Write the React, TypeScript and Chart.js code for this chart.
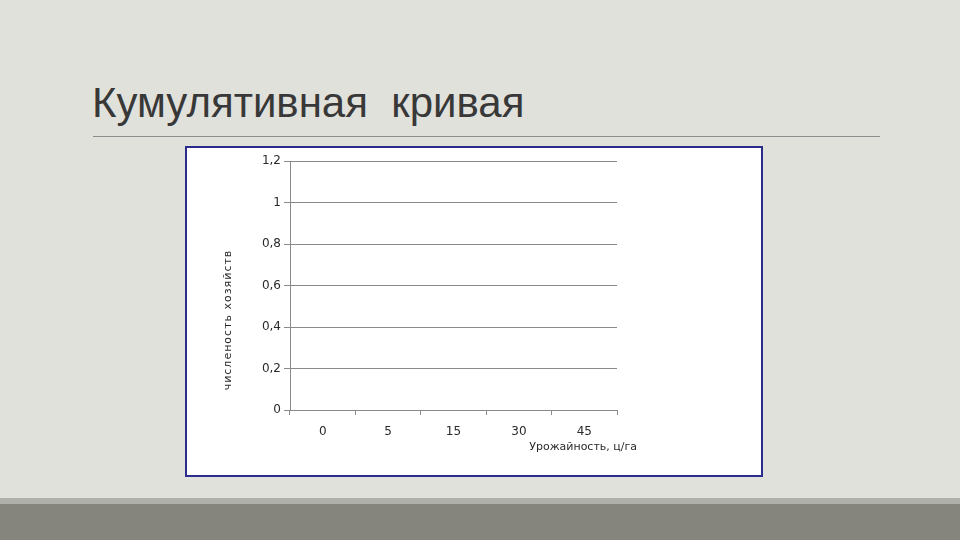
import React, { useEffect, useRef } from "react";
import { Chart, registerables } from "chart.js";

Chart.register(...registerables);

const slideTitle = "Кумулятивная  кривая";
const categories = ["0", "5", "15", "30", "45"];
const cumulativeShare: (number | null)[] = [null, null, null, null, null];
const yMin = 0;
const yMax = 1.2;
const yStep = 0.2;
const xAxisTitle = "Урожайность, ц/га";
const yAxisTitle = "численость хозяйств";

const AXIS_FONT = "'DejaVu Sans', Verdana, sans-serif";

export default function App() {
  const canvasRef = useRef<HTMLCanvasElement | null>(null);

  useEffect(() => {
    const canvas = canvasRef.current;
    if (!canvas) return;
    const axisTitlesPlugin = {
      id: "axisTitlesPlugin",
      afterDraw(chart: any) {
        const { ctx, chartArea } = chart;
        ctx.save();
        ctx.font = `11px ${AXIS_FONT}`;
        ctx.fillStyle = "#2a2a2a";
        ctx.textAlign = "right";
        ctx.textBaseline = "middle";
        ctx.fillText(xAxisTitle, chartArea.right + 20, chartArea.bottom + 37);
        ctx.restore();

        ctx.save();
        ctx.font = `11px ${AXIS_FONT}`;
        ctx.fillStyle = "#2a2a2a";
        (ctx as any).letterSpacing = "1px";
        ctx.textAlign = "center";
        ctx.textBaseline = "middle";
        ctx.translate(chartArea.left - 62, chartArea.top + 159);
        ctx.rotate(-Math.PI / 2);
        ctx.fillText(yAxisTitle, 0, 0);
        ctx.restore();
      },
    };
    const chart = new Chart(canvas, {
      type: "line",
      data: {
        labels: categories,
        datasets: [
          {
            label: "Кумулятивная доля",
            data: cumulativeShare,
            borderColor: "#1f3d99",
            backgroundColor: "#1f3d99",
            pointRadius: 0,
          },
        ],
      },
      options: {
        animation: false,
        responsive: false,
        maintainAspectRatio: false,
        layout: { padding: { left: 30, right: 144, top: 13, bottom: 0 } },
        plugins: { legend: { display: false }, tooltip: { enabled: false } },
        scales: {
          x: {
            type: "category",
            offset: true,
            grid: {
              drawOnChartArea: false,
              drawTicks: true,
              tickLength: 5,
              color: "#8a8a8a",
              offset: true,
            },
            border: { color: "#8a8a8a" },
            ticks: {
              color: "#2a2a2a",
              font: { family: AXIS_FONT, size: 12 },
              padding: 10,
              maxRotation: 0,
            },
            afterFit(scale: any) {
              scale.height = 64;
            },
          },
          y: {
            min: yMin,
            max: yMax,
            grid: { color: "#8a8a8a", tickLength: 6 },
            border: { color: "#8a8a8a" },
            ticks: {
              stepSize: yStep,
              color: "#2a2a2a",
              font: { family: AXIS_FONT, size: 12 },
              padding: 3,
              callback: (v: any) => String(Math.round(Number(v) * 10) / 10).replace(".", ","),
            },
            afterFit(scale: any) {
              scale.width = 73;
            },
          },
        },
      },
      plugins: [axisTitlesPlugin],
    });
    return () => chart.destroy();
  }, []);

  return (
    <div
      style={{
        position: "fixed",
        left: 0,
        top: 0,
        width: 960,
        height: 540,
        background: "#e1e1dc",
        overflow: "hidden",
      }}
    >
      <div
        style={{
          position: "absolute",
          left: 92,
          top: 78,
          fontFamily: "'Liberation Sans', Arial, sans-serif",
          fontSize: 42,
          lineHeight: "50px",
          color: "#383838",
          whiteSpace: "pre",
        }}
      >
        {slideTitle}
      </div>
      <div
        style={{
          position: "absolute",
          left: 93,
          top: 136,
          width: 787,
          height: 1,
          background: "#8c8c8c",
        }}
      />
      <div
        style={{
          position: "absolute",
          left: 185,
          top: 146,
          width: 578,
          height: 331,
          boxSizing: "border-box",
          border: "2px solid #2c2c8c",
          background: "#ffffff",
        }}
      />
      <canvas
        ref={canvasRef}
        width={574}
        height={326}
        style={{ position: "absolute", left: 187, top: 148, width: 574, height: 326 }}
      />
      <div
        style={{
          position: "absolute",
          left: 0,
          top: 498,
          width: 960,
          height: 6,
          background: "#b0b0aa",
        }}
      />
      <div
        style={{
          position: "absolute",
          left: 0,
          top: 504,
          width: 960,
          height: 36,
          background: "#85857e",
        }}
      />
    </div>
  );
}
